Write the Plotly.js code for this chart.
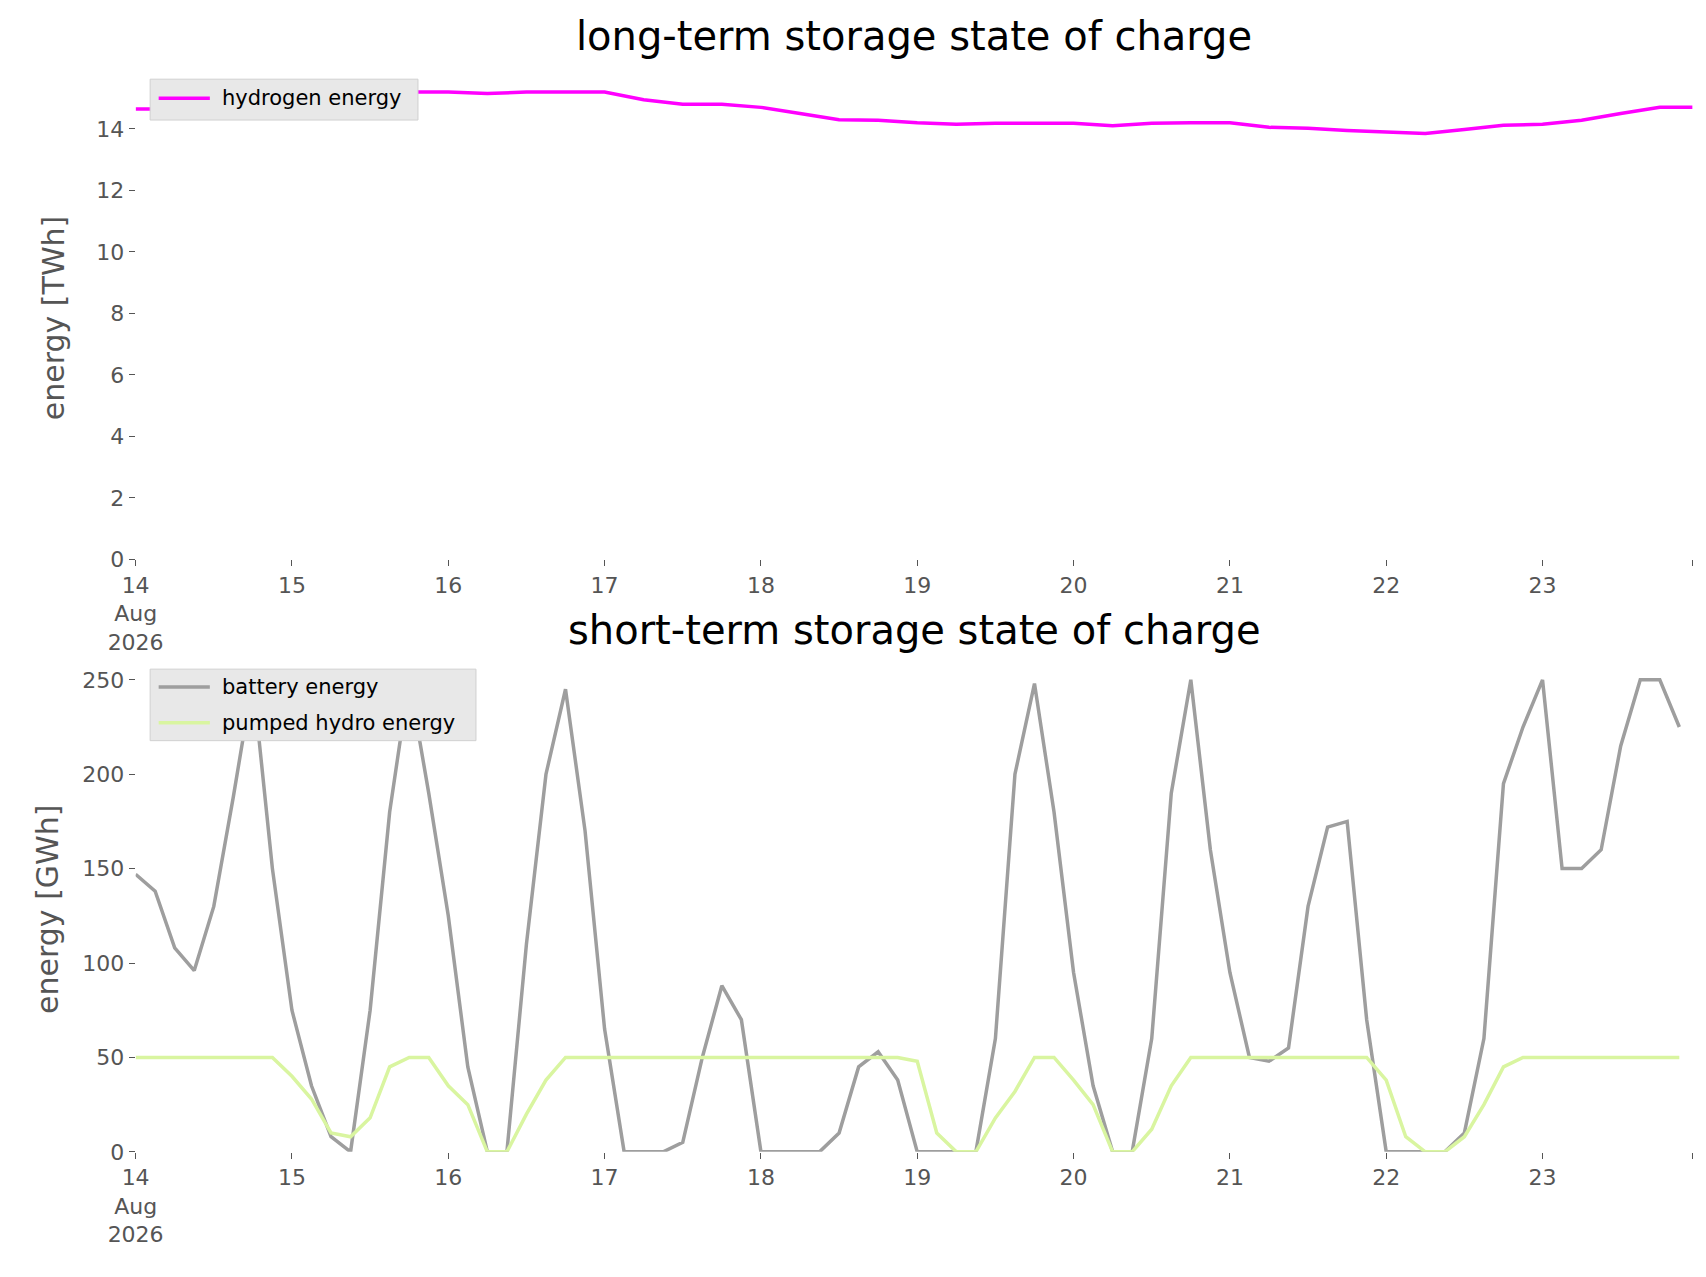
<!DOCTYPE html>
<html><head><meta charset="utf-8">
<script src="https://cdn.plot.ly/plotly-3.0.1.min.js"></script>
<style>body{margin:0;background:#fff}#c{width:1706px;height:1277px}</style></head>
<body><div id="c"></div>
<script>
const hydrogen = [14.65,14.65,14.8,14.95,15.05,15.1,15.2,15.2,15.2,15.15,15.2,15.2,15.2,14.95,14.8,14.8,14.7,14.5,14.3,14.28,14.2,14.15,14.18,14.18,14.18,14.1,14.18,14.2,14.2,14.05,14.02,13.95,13.9,13.85,13.98,14.12,14.15,14.28,14.5,14.7,14.7];
const battery = [147,138,108,96,130,188,250,150,
 75,35,8,0,75,180,250,190,
 125,45,0,0,110,200,245,170,
 65,0,0,0,5,50,88,70,
 0,0,0,0,10,45,53,38,
 0,0,0,0,60,200,248,180,
 95,35,0,0,60,190,250,160,
 95,50,48,55,130,172,175,70,
 0,0,0,0,10,60,195,225,
 250,150,150,160,215,250,250,225];
const hydro = [50,50,50,50,50,50,50,50,
 40,28,10,8,18,45,50,50,
 35,25,0,0,20,38,50,50,
 50,50,50,50,50,50,50,50,
 50,50,50,50,50,50,50,50,
 48,10,0,0,18,32,50,50,
 38,25,0,0,12,35,50,50,
 50,50,50,50,50,50,50,50,
 38,8,0,0,8,25,45,50,
 50,50,50,50,50,50,50,50];
const tickVals = ['2026-08-14','2026-08-15','2026-08-16','2026-08-17','2026-08-18','2026-08-19','2026-08-20','2026-08-21','2026-08-22','2026-08-23','2026-08-23 23:00'];
const tickText = ['14<br>Aug<br>2026','15','16','17','18','19','20','21','22','23',''];
function times(n, stepH){const t0=Date.UTC(2026,7,14);const a=[];for(let i=0;i<n;i++){const d=new Date(t0+i*stepH*3600e3);a.push(d.toISOString().slice(0,16).replace('T',' '));}return a;}
const tH=times(hydrogen.length,6), tS=times(battery.length,3);
const tf={family:'DejaVu Sans',size:22,color:'#555'};
const yt={family:'DejaVu Sans',size:30,color:'#555'};
const xa=(anchor)=>({domain:[0.0795,0.992],anchor:anchor,type:'date',range:['2026-08-14','2026-08-23 23:00'],tickvals:tickVals,ticktext:tickText,ticks:'outside',ticklen:6,tickcolor:'#555',tickfont:tf,showgrid:false,zeroline:false,showline:false});
const layout={width:1706,height:1277,margin:{l:0,r:0,t:0,b:0},paper_bgcolor:'#fff',plot_bgcolor:'#fff',showlegend:false,
 xaxis:xa('y'),xaxis2:xa('y2'),
 yaxis:{domain:[0.562,0.94],anchor:'x',range:[0,15.7],tickvals:[0,2,4,6,8,10,12,14],ticks:'outside',ticklen:6,tickcolor:'#555',tickfont:tf,showgrid:false,zeroline:false,title:{text:'energy [TWh]',font:yt,standoff:22}},
 yaxis2:{domain:[0.098,0.478],anchor:'x2',range:[0,257],tickvals:[0,50,100,150,200,250],ticks:'outside',ticklen:6,tickcolor:'#555',tickfont:tf,showgrid:false,zeroline:false,title:{text:'energy [GWh]',font:yt,standoff:14}},
 annotations:[
  {text:'long-term storage state of charge',xref:'paper',yref:'paper',x:0.536,y:0.952,yanchor:'bottom',showarrow:false,font:{family:'DejaVu Sans',size:40,color:'#000'}},
  {text:'short-term storage state of charge',xref:'paper',yref:'paper',x:0.536,y:0.487,yanchor:'bottom',showarrow:false,font:{family:'DejaVu Sans',size:40,color:'#000'}},
 ],
 shapes:[
  {type:'rect',xref:'paper',yref:'paper',x0:0.088,x1:0.245,y0:0.906,y1:0.938,fillcolor:'#e8e8e8',line:{color:'#d0d0d0',width:1}},
  {type:'line',xref:'paper',yref:'paper',x0:0.093,x1:0.123,y0:0.923,y1:0.923,line:{color:'#ff00ff',width:3.5}},
  {type:'rect',xref:'paper',yref:'paper',x0:0.088,x1:0.279,y0:0.42,y1:0.476,fillcolor:'#e8e8e8',line:{color:'#d0d0d0',width:1}},
  {type:'line',xref:'paper',yref:'paper',x0:0.093,x1:0.123,y0:0.462,y1:0.462,line:{color:'#9e9e9e',width:3.5}},
  {type:'line',xref:'paper',yref:'paper',x0:0.093,x1:0.123,y0:0.434,y1:0.434,line:{color:'#d9f5a0',width:3.5}}
 ]};
const lf={family:'DejaVu Sans',size:21,color:'#000'};
layout.annotations.push(
 {text:'hydrogen energy',xref:'paper',yref:'paper',x:0.129,y:0.923,xanchor:'left',yanchor:'middle',showarrow:false,font:lf},
 {text:'battery energy',xref:'paper',yref:'paper',x:0.129,y:0.462,xanchor:'left',yanchor:'middle',showarrow:false,font:lf},
 {text:'pumped hydro energy',xref:'paper',yref:'paper',x:0.129,y:0.434,xanchor:'left',yanchor:'middle',showarrow:false,font:lf});
const data=[
 {x:tH,y:hydrogen,type:'scatter',mode:'lines',name:'hydrogen energy',line:{color:'#ff00ff',width:3.5},xaxis:'x',yaxis:'y'},
 {x:tS,y:battery,type:'scatter',mode:'lines',name:'battery energy',line:{color:'#9e9e9e',width:3.5},xaxis:'x2',yaxis:'y2'},
 {x:tS,y:hydro,type:'scatter',mode:'lines',name:'pumped hydro energy',line:{color:'#d9f5a0',width:3.5},xaxis:'x2',yaxis:'y2'}];
Plotly.newPlot('c',data,layout,{displayModeBar:false});
</script></body></html>
